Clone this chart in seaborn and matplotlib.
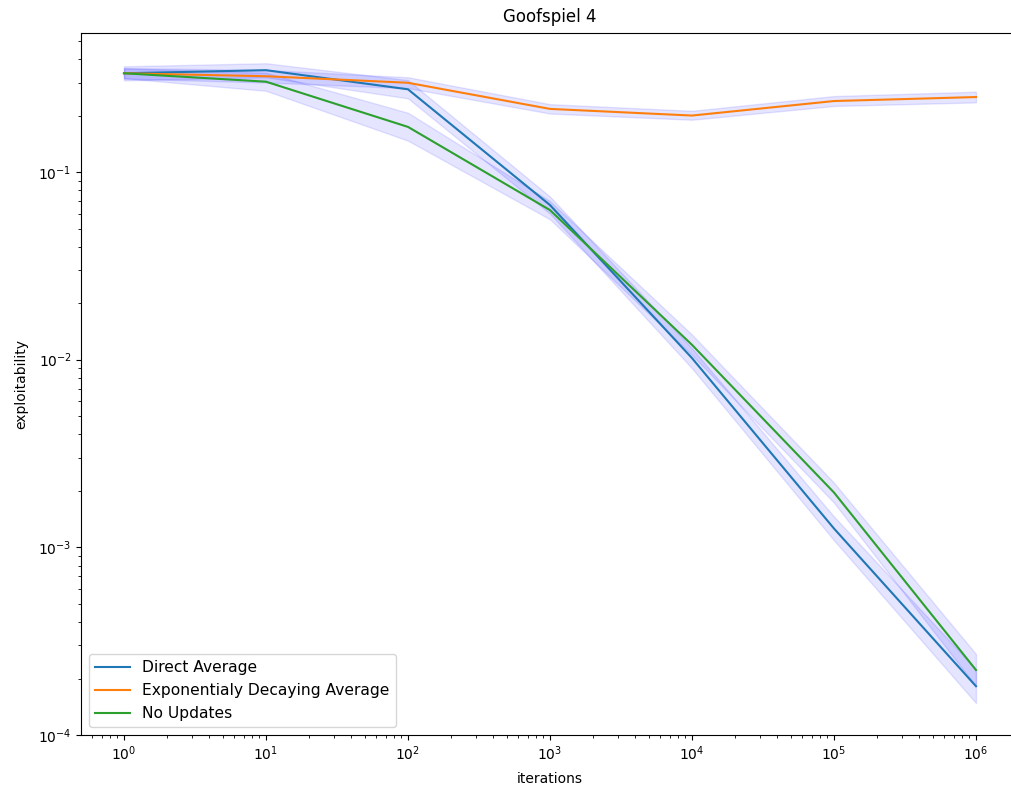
import pandas as pd
import numpy as np
import matplotlib
matplotlib.use("Agg")
import matplotlib.pyplot as plt
import seaborn as sns

# data
iterations = [1, 10, 100, 1000, 10000, 100000, 1000000]

direct_avg = [0.336, 0.349, 0.276, 0.0667, 0.0102, 0.00126, 0.000182]
direct_lo = [0.308, 0.320, 0.247, 0.0600, 0.0090, 0.00109, 0.000148]
direct_hi = [0.366, 0.380, 0.309, 0.0740, 0.0115, 0.00146, 0.000224]

exp_avg = [0.336, 0.324, 0.299, 0.217, 0.200, 0.239, 0.251]
exp_lo = [0.315, 0.300, 0.280, 0.205, 0.190, 0.225, 0.235]
exp_hi = [0.358, 0.350, 0.320, 0.230, 0.212, 0.254, 0.268]

no_upd = [0.336, 0.303, 0.174, 0.0627, 0.0120, 0.00196, 0.000222]
no_upd_lo = [0.316, 0.271, 0.147, 0.0560, 0.0106, 0.00173, 0.000182]
no_upd_hi = [0.357, 0.338, 0.207, 0.0700, 0.0136, 0.00221, 0.000270]

names = ['Direct Average', 'Exponentialy Decaying Average', 'No Updates']

df = pd.DataFrame({
    'iterations': iterations * 3,
    'exploitability': direct_avg + exp_avg + no_upd,
    'method': [n for n in names for _ in iterations],
})

fig = plt.figure(figsize=(10.11, 7.94), dpi=100)
ax = fig.add_axes([0.0805, 0.0743, 0.927, 0.884])

sns.lineplot(data=df, x='iterations', y='exploitability', hue='method', ax=ax)

for lo, hi in [(direct_lo, direct_hi), (exp_lo, exp_hi), (no_upd_lo, no_upd_hi)]:
    ax.fill_between(iterations, lo, hi, color='blue', alpha=0.1)

ax.set_xscale('log')
ax.set_yscale('log')
ax.set_xlim(10 ** -0.3, 10 ** 6.3)
ax.set_ylim(1e-4, 0.55)
ax.set_title('Goofspiel 4', pad=8)
ax.set_xlabel('iterations', labelpad=6)
ax.set_ylabel('exploitability', labelpad=7)
ax.legend(loc='lower left', fontsize=11.2, handlelength=2.2)

fig.savefig('out.png', dpi=100)
